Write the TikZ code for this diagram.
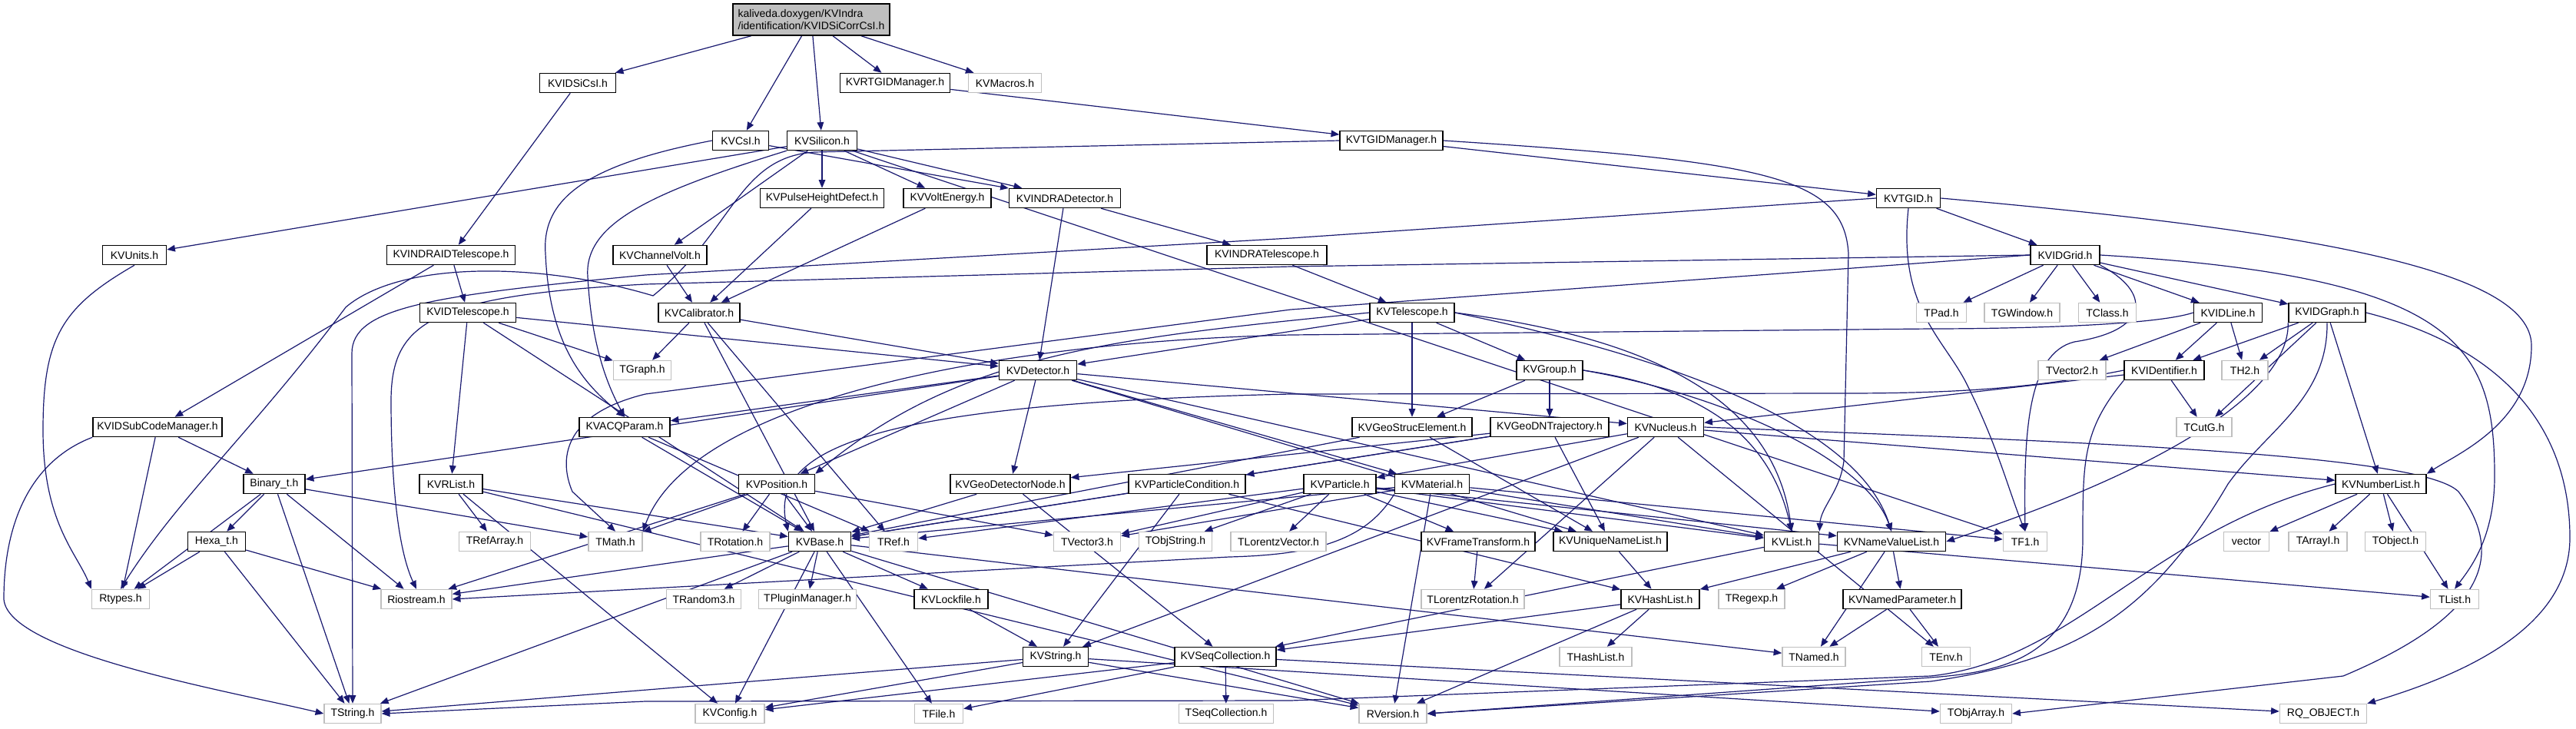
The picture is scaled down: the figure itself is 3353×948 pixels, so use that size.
\documentclass[tikz,border=0pt]{standalone}
\usepackage{fontspec}
\setmainfont{Liberation Sans}
\usetikzlibrary{arrows.meta,backgrounds}
\definecolor{edgec}{HTML}{191970}
\definecolor{gbord}{HTML}{BFBFBF}
\newcommand\gfs{\fontsize{4.2}{4.7}\selectfont}
\begin{document}
\begin{tikzpicture}[x=0.3pt,y=-0.3pt,
 nd/.style={draw=black, fill=white, line width=0.45pt, minimum height=7.5pt, inner sep=0pt, font=\gfs, text=black},
 sy/.style={nd, draw=gbord},
 nw/.style={minimum width=#1*0.3pt},
 e/.style={draw=edgec, line width=0.36pt, -{Triangle[length=3.2pt,width=2.6pt]}}]
\useasboundingbox (0,0) rectangle (3353,948);
% row 0-3
\node[nd,nw=204,minimum height=12.3pt,fill=gbord,align=left] (root) at (1056,25.5) {kaliveda.doxygen/KVIndra\\/identification/KVIDSiCorrCsI.h};
\node[nd,nw=99]  (idsicsi) at (752,108) {KVIDSiCsI.h};
\node[nd,nw=143] (rtgidm) at (1165,108) {KVRTGIDManager.h};
\node[sy,nw=95]  (macros) at (1308,108) {KVMacros.h};
\node[nd,nw=73]  (csi) at (964,183) {KVCsI.h};
\node[nd,nw=91]  (silicon) at (1070,183) {KVSilicon.h};
\node[nd,nw=134] (tgidm) at (1811,183) {KVTGIDManager.h};
\node[nd,nw=161] (phd) at (1070,258) {KVPulseHeightDefect.h};
\node[nd,nw=114] (voltE) at (1233,258) {KVVoltEnergy.h};
\node[nd,nw=145] (indradet) at (1386,258) {KVINDRADetector.h};
\node[nd,nw=83]  (tgid) at (2484,258) {KVTGID.h};
% row 4
\node[nd,nw=83]  (units) at (175,332) {KVUnits.h};
\node[nd,nw=167] (indraidtel) at (587,332) {KVINDRAIDTelescope.h};
\node[nd,nw=122] (chvolt) at (859,332) {KVChannelVolt.h};
\node[nd,nw=156] (indratel) at (1649,332) {KVINDRATelescope.h};
\node[nd,nw=90]  (idgrid) at (2688,332) {KVIDGrid.h};
% row 5
\node[nd,nw=125] (idtel) at (609,407) {KVIDTelescope.h};
\node[nd,nw=106] (calib) at (910,407) {KVCalibrator.h};
\node[nd,nw=110] (tele) at (1838,407) {KVTelescope.h};
\node[sy,nw=65]  (tpad) at (2527,407) {TPad.h};
\node[sy,nw=98]  (tgwin) at (2632,407) {TGWindow.h};
\node[sy,nw=75]  (tclass) at (2743,407) {TClass.h};
\node[nd,nw=89]  (idline) at (2900,407) {KVIDLine.h};
\node[nd,nw=100] (idgraph) at (3029,407) {KVIDGraph.h};
% row 6
\node[sy,nw=75]  (tgraph) at (836,482) {TGraph.h};
\node[nd,nw=101] (det) at (1351,482) {KVDetector.h};
\node[nd,nw=86]  (group) at (2017,482) {KVGroup.h};
\node[sy,nw=88]  (tvec2) at (2697,482) {TVector2.h};
\node[nd,nw=104] (ident) at (2817,482) {KVIDentifier.h};
\node[sy,nw=60]  (th2) at (2922,482) {TH2.h};
% row 7
\node[nd,nw=168] (subcode) at (205,556) {KVIDSubCodeManager.h};
\node[nd,nw=118] (acq) at (813,556) {KVACQParam.h};
\node[nd,nw=156] (gse) at (1838,556) {KVGeoStrucElement.h};
\node[nd,nw=154] (gdnt) at (2017,556) {KVGeoDNTrajectory.h};
\node[nd,nw=99]  (nucleus) at (2168,556) {KVNucleus.h};
\node[sy,nw=72]  (tcutg) at (2869,556) {TCutG.h};
% row 8
\node[nd,nw=80]  (binary) at (357,630) {Binary\_t.h};
\node[nd,nw=82]  (rlist) at (587,630) {KVRList.h};
\node[nd,nw=99]  (position) at (1011,630) {KVPosition.h};
\node[nd,nw=156] (gdn) at (1315,630) {KVGeoDetectorNode.h};
\node[nd,nw=152] (pcond) at (1545,630) {KVParticleCondition.h};
\node[nd,nw=94]  (particle) at (1744,630) {KVParticle.h};
\node[nd,nw=97]  (material) at (1864,630) {KVMaterial.h};
\node[nd,nw=118] (numlist) at (3099,630) {KVNumberList.h};
% row 9
\node[nd,nw=75]  (hexa) at (282,705) {Hexa\_t.h};
\node[sy,nw=93]  (trefarray) at (644,705) {TRefArray.h};
\node[sy,nw=70]  (tmath) at (801,705) {TMath.h};
\node[sy,nw=90]  (trot) at (957,705) {TRotation.h};
\node[nd,nw=81]  (base) at (1067,705) {KVBase.h};
\node[sy,nw=63]  (tref) at (1163,705) {TRef.h};
\node[sy,nw=87]  (tvec3) at (1415,705) {TVector3.h};
\node[sy,nw=95]  (tobjstr) at (1530,705) {TObjString.h};
\node[sy,nw=124] (tlv) at (1664,705) {TLorentzVector.h};
\node[nd,nw=148] (frame) at (1924,705) {KVFrameTransform.h};
\node[nd,nw=148] (uniq) at (2096,705) {KVUniqueNameList.h};
\node[nd,nw=71]  (list) at (2332,705) {KVList.h};
\node[nd,nw=141] (nvl) at (2462,705) {KVNameValueList.h};
\node[sy,nw=57]  (tf1) at (2636,705) {TF1.h};
\node[sy,nw=59]  (vector) at (2924,705) {vector};
\node[sy,nw=76]  (tarrayi) at (3017,705) {TArrayI.h};
\node[sy,nw=79]  (tobject) at (3118,705) {TObject.h};
% row 10
\node[sy,nw=75]  (rtypes) at (157,780) {Rtypes.h};
\node[sy,nw=92]  (riostream) at (542,780) {Riostream.h};
\node[sy,nw=97]  (trandom) at (916,780) {TRandom3.h};
\node[sy,nw=127] (tplugin) at (1051,780) {TPluginManager.h};
\node[nd,nw=96]  (lockfile) at (1238,780) {KVLockfile.h};
\node[sy,nw=134] (tlr) at (1917,780) {TLorentzRotation.h};
\node[nd,nw=102] (hashlist) at (2161,780) {KVHashList.h};
\node[sy,nw=86]  (tregexp) at (2280,780) {TRegexp.h};
\node[nd,nw=154] (namedpar) at (2476,780) {KVNamedParameter.h};
\node[sy,nw=63]  (tlist) at (3195,780) {TList.h};
% row 11
\node[nd,nw=85]  (string) at (1374,855) {KVString.h};
\node[nd,nw=132] (seqcoll) at (1595,855) {KVSeqCollection.h};
\node[sy,nw=94]  (thashlist) at (2077,855) {THashList.h};
\node[sy,nw=82]  (tnamed) at (2361,855) {TNamed.h};
\node[sy,nw=63]  (tenv) at (2533,855) {TEnv.h};
% row 12
\node[sy,nw=74]  (tstring) at (459,929) {TString.h};
\node[sy,nw=90]  (config) at (950,929) {KVConfig.h};
\node[sy,nw=63]  (tfile) at (1222,929) {TFile.h};
\node[sy,nw=123] (tseqcoll) at (1596,929) {TSeqCollection.h};
\node[sy,nw=88]  (rversion) at (1813,929) {RVersion.h};
\node[sy,nw=93]  (tobjarray) at (2572,929) {TObjArray.h};
\node[sy,nw=113] (rqobject) at (3024,929) {RQ\_OBJECT.h};

\begin{pgfonlayer}{background}
\fill[white] (0,0) rectangle (3353,948);
\foreach \a/\b in {root/idsicsi, root/csi, root/silicon, root/rtgidm, root/macros,
 idsicsi/indraidtel, rtgidm/tgidm, csi/indradet,
 silicon/units, silicon/chvolt, silicon/phd, silicon/voltE, silicon/indradet, silicon/tf1,
 tgidm/tgid, phd/calib, voltE/calib, chvolt/calib, indradet/det, indradet/indratel,
 tgid/idgrid, indraidtel/subcode, indraidtel/idtel, indratel/tele,
 idgrid/tpad, idgrid/tgwin, idgrid/tclass, idgrid/idline, idgrid/idgraph,
 idtel/tgraph, idtel/det, idtel/rlist, idtel/base,
 calib/tgraph, calib/det, calib/base, calib/tref,
 tele/det, tele/group, tele/gse,
 idline/tvec2, idline/ident, idline/th2,
 idgraph/ident, idgraph/th2, idgraph/tcutg, idgraph/numlist,
 det/acq, det/binary, det/position, det/gdn, det/nucleus, det/material, det/list, det/uniq,
 group/gse, group/gdnt,
 ident/tcutg, ident/nucleus,
 subcode/binary, subcode/rtypes,
 acq/base, acq/tref, gse/base, gse/uniq,
 gdnt/gdn, gdnt/uniq, gdnt/base, gdnt/pcond,
 nucleus/particle, nucleus/numlist, nucleus/tlr, nucleus/string, nucleus/tenv,
 binary/hexa, binary/rtypes, binary/tstring, binary/riostream, binary/tmath,
 rlist/trefarray, rlist/base, rlist/config, rlist/rversion,
 position/trot, position/tmath, position/base, position/tvec3, position/riostream,
 gdn/base, gdn/seqcoll, pcond/base, pcond/string, pcond/hashlist,
 particle/tvec3, particle/tobjstr, particle/tlv, particle/frame, particle/uniq, particle/list, particle/nvl, particle/tref,
 material/base, material/tf1, material/rversion, material/tvec3, material/list,
 numlist/vector, numlist/tarrayi, numlist/tobject, numlist/tlist,
 hexa/rtypes, hexa/riostream, hexa/tstring,
 base/trandom, base/tplugin, base/lockfile, base/tfile, base/config, base/tstring, base/rversion, base/tnamed, base/riostream,
 lockfile/string, string/tstring, string/config, string/rversion, string/tobjarray,
 seqcoll/config, seqcoll/tfile, seqcoll/tseqcoll, seqcoll/rqobject,
 frame/tlr, uniq/hashlist, list/seqcoll, list/tlist,
 nvl/hashlist, nvl/tregexp, nvl/namedpar, nvl/tnamed,
 hashlist/thashlist, hashlist/rversion, hashlist/seqcoll,
 namedpar/tnamed, namedpar/tenv}
 \draw[e] (\a) -- (\b);
% curved long edges
\draw[e] (csi.west) .. controls (760,215) and (705,260) .. (710,330) .. controls (715,450) and (760,500) .. (acq.north);
\draw[e] (silicon.south west) .. controls (850,250) and (760,290) .. (765,360) .. controls (770,450) and (790,500) .. (acq.north);
\draw[e] (tgidm.west) -- (1060,198) .. controls (960,205) and (955,300) .. (850,385) .. controls (700,340) and (520,340) .. (450,400) .. controls (330,560) and (230,650) .. (rtypes.north);
\draw[e] (tgidm.east) .. controls (2300,210) and (2400,230) .. (2406,330) -- (2400,600) .. controls (2395,640) and (2370,660) .. (list.north east);
\draw[e] (tgid.west) -- (1680,310) -- (840,358) .. controls (560,385) and (458,400) .. (458,460) -- (tstring.north);
\draw[e] (tgid.south) .. controls (2470,400) and (2530,440) .. (2560,500) .. controls (2600,580) and (2615,640) .. (tf1.north);
\draw[e] (tgid.east) .. controls (3000,300) and (3295,350) .. (3295,450) .. controls (3295,550) and (3200,590) .. (numlist.north east);
\draw[e] (idgrid.west) -- (1680,347) -- (840,370) .. controls (560,385) and (510,420) .. (509,520) .. controls (509,640) and (520,720) .. (riostream.north);
\draw[e] (idgrid.west) -- (1680,403) -- (840,513) .. controls (730,540) and (728,600) .. (745,640) -- (tmath.north);
\draw[e] (idgrid.east) .. controls (3200,360) and (3247,450) .. (3247,620) .. controls (3247,700) and (3215,740) .. (tlist.north);
\draw[e] (idgrid.south east) .. controls (2800,380) and (2800,430) .. (2700,445) .. controls (2640,460) and (2634,560) .. (tf1.north);
\draw[e] (idgraph.east) .. controls (3250,450) and (3345,550) .. (3345,700) .. controls (3345,820) and (3200,880) .. (rqobject.north east);
\draw[e] (idgraph.south) .. controls (3030,520) and (2950,560) .. (2900,630) .. controls (2800,800) and (2700,860) .. (2513,887) -- (rversion.east);
\draw[e] (idgraph.south west) .. controls (2980,500) and (2850,600) .. (nvl.east);
\draw[e] (idline.west) .. controls (2800,425) and (2600,428) .. (2513,428) -- (1680,436) .. controls (1300,445) and (900,520) .. (tmath.north east);
\draw[e] (ident.west) .. controls (2650,505) and (2550,512) .. (2400,512) -- (1680,513) .. controls (1150,525) and (1000,580) .. (base.north west);
\draw[e] (ident.south west) .. controls (2711,560) and (2711,600) .. (2711,700) .. controls (2711,860) and (2600,875) .. (2513,882) -- (rversion.east);
\draw[e] (tele.east) .. controls (2150,440) and (2310,520) .. (list.north);
\draw[e] (tele.east) .. controls (2200,470) and (2420,560) .. (nvl.north);
\draw[e] (group.east) .. controls (2220,505) and (2305,570) .. (list.north);
\draw[e] (group.east) .. controls (2250,515) and (2430,600) .. (nvl.north);
\draw[e] (tele.west) .. controls (1450,440) and (1250,460) .. (position.north east);
\draw[e] (material.south west) .. controls (1780,700) and (1720,722) .. (1600,725) -- (riostream.east);
\draw[e] (nucleus.east) .. controls (2700,575) and (3150,590) .. (3200,640) .. controls (3260,720) and (3240,800) .. (3050,880) -- (tobjarray.east);
\draw[e] (numlist.west) .. controls (2800,690) and (2700,860) .. (2513,880) -- (1680,912) -- (840,913) -- (tstring.east);
\draw[e] (subcode.south west) .. controls (40,600) and (5,680) .. (5,780) .. controls (10,850) and (300,900) .. (tstring.west);
\draw[e] (units.south) .. controls (80,400) and (56,440) .. (56,560) .. controls (56,680) and (100,720) .. (rtypes.north west);
\end{pgfonlayer}
\end{tikzpicture}
\end{document}
